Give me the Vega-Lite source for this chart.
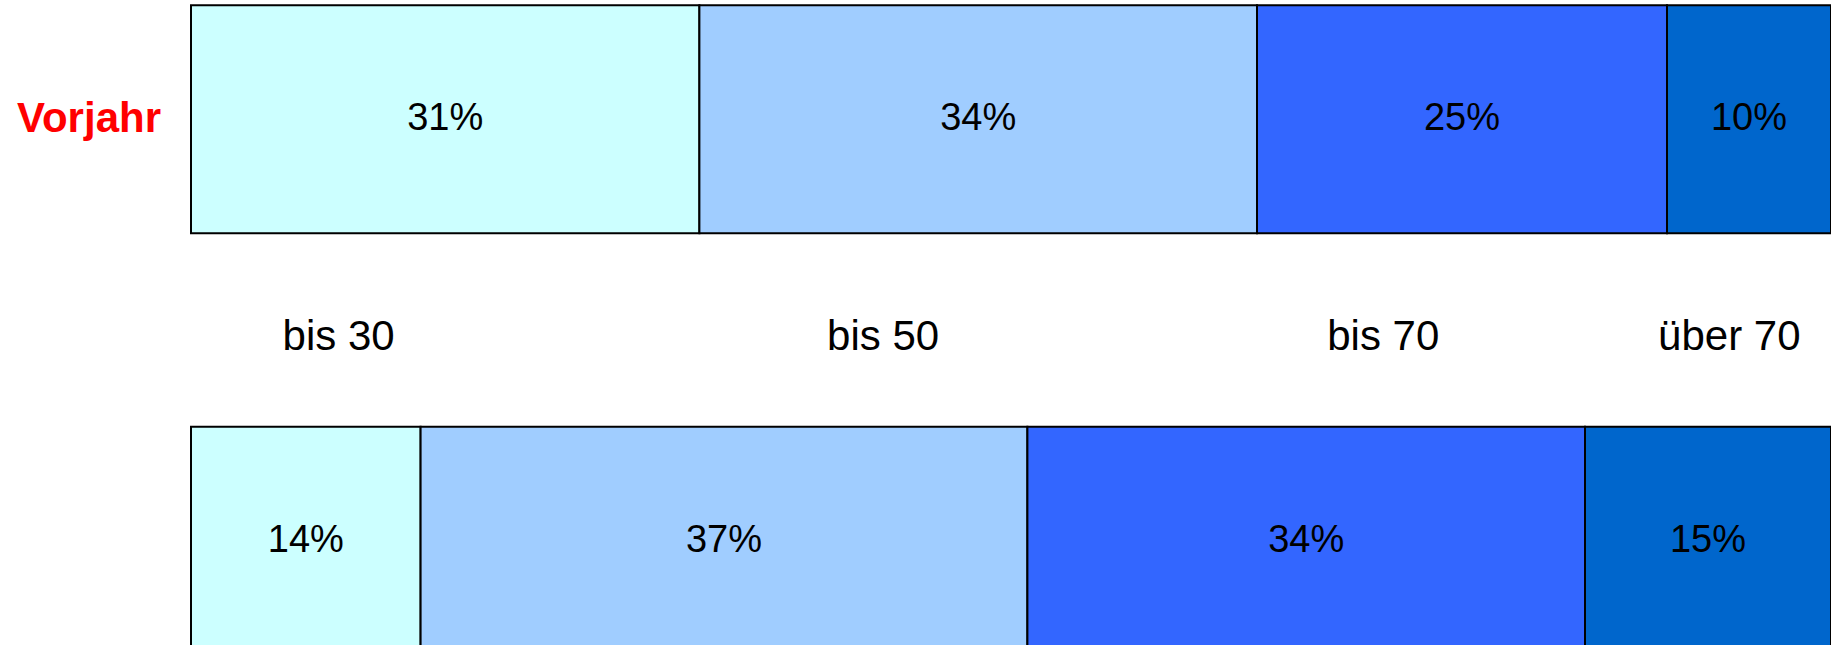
{
  "$schema": "https://vega.github.io/schema/vega-lite/v6.json",
  "autosize": "none",
  "width": 1640,
  "height": 632,
  "padding": {"left": 191, "top": 14, "right": 0, "bottom": 0},
  "background": "white",
  "config": {"view": {"stroke": null}},
  "datasets": {
    "shares": [
      {"row": "Vorjahr", "group": "bis 30", "rank": 1, "value": 31, "label": "31%"},
      {"row": "Vorjahr", "group": "bis 50", "rank": 2, "value": 34, "label": "34%"},
      {"row": "Vorjahr", "group": "bis 70", "rank": 3, "value": 25, "label": "25%"},
      {"row": "Vorjahr", "group": "über 70", "rank": 4, "value": 10, "label": "10%"},
      {"row": "Aktuell", "group": "bis 30", "rank": 1, "value": 14, "label": "14%"},
      {"row": "Aktuell", "group": "bis 50", "rank": 2, "value": 37, "label": "37%"},
      {"row": "Aktuell", "group": "bis 70", "rank": 3, "value": 34, "label": "34%"},
      {"row": "Aktuell", "group": "über 70", "rank": 4, "value": 15, "label": "15%"}
    ],
    "categories": [
      {"row": "mid", "cat": "bis 30", "pos": 9.0},
      {"row": "mid", "cat": "bis 50", "pos": 42.2},
      {"row": "mid", "cat": "bis 70", "pos": 72.7},
      {"row": "mid", "cat": "über 70", "pos": 93.8}
    ],
    "rowlabels": [
      {"row": "Vorjahr", "text": "Vorjahr"}
    ]
  },
  "encoding": {
    "y": {
      "field": "row",
      "type": "nominal",
      "scale": {"type": "point", "domain": ["Vorjahr", "mid", "Aktuell"], "padding": 0.5},
      "axis": null
    }
  },
  "layer": [
    {
      "data": {"name": "shares"},
      "mark": {"type": "bar", "height": 228, "stroke": "black", "strokeWidth": 2},
      "encoding": {
        "x": {
          "field": "value",
          "type": "quantitative",
          "stack": "zero",
          "scale": {"domain": [0, 100], "nice": false, "zero": true},
          "axis": null
        },
        "color": {
          "field": "group",
          "type": "nominal",
          "scale": {
            "domain": ["bis 30", "bis 50", "bis 70", "über 70"],
            "range": ["#CCFFFF", "#A0CDFF", "#3366FF", "#0066CC"]
          },
          "legend": null
        },
        "order": {"field": "rank", "type": "quantitative"}
      }
    },
    {
      "data": {"name": "shares"},
      "transform": [
        {"stack": "value", "groupby": ["row"], "sort": [{"field": "rank", "order": "ascending"}], "as": ["s0", "s1"]},
        {"calculate": "(datum.s0 + datum.s1) / 2", "as": "mid"}
      ],
      "mark": {"type": "text", "font": "Liberation Sans", "fontSize": 38, "color": "black", "baseline": "middle", "align": "center"},
      "encoding": {
        "x": {"field": "mid", "type": "quantitative"},
        "text": {"field": "label", "type": "nominal"}
      }
    },
    {
      "data": {"name": "categories"},
      "mark": {"type": "text", "font": "Liberation Sans", "fontSize": 42, "color": "black", "baseline": "middle", "align": "center", "dy": 7},
      "encoding": {
        "x": {"field": "pos", "type": "quantitative"},
        "text": {"field": "cat", "type": "nominal"}
      }
    },
    {
      "data": {"name": "rowlabels"},
      "mark": {"type": "text", "font": "Liberation Sans", "fontSize": 42, "fontWeight": "bold", "color": "red", "baseline": "middle", "align": "right", "dx": -30},
      "encoding": {
        "x": {"datum": 0, "type": "quantitative"},
        "text": {"field": "text", "type": "nominal"}
      }
    }
  ]
}
